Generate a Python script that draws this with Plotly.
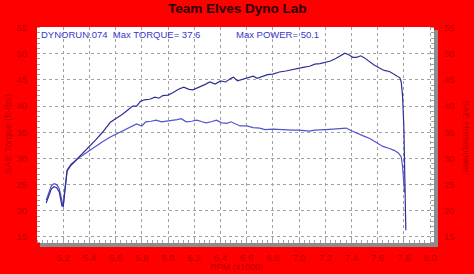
import plotly.graph_objects as go

# ---- data ----
rpm_hp = [5.07, 5.09, 5.11, 5.13, 5.15, 5.17, 5.19, 5.20, 5.21, 5.23, 5.26, 5.30, 5.33, 5.36,
          5.40, 5.45, 5.50, 5.56, 5.60, 5.65, 5.70, 5.73, 5.76, 5.79, 5.82, 5.86, 5.90, 5.93,
          5.96, 6.00, 6.04, 6.08, 6.12, 6.16, 6.19, 6.23, 6.28, 6.32, 6.36, 6.40, 6.44, 6.48,
          6.50, 6.53, 6.57, 6.61, 6.65, 6.68, 6.72, 6.76, 6.80, 6.85, 6.90, 6.95, 7.00, 7.03,
          7.08, 7.12, 7.16, 7.20, 7.24, 7.28, 7.32, 7.35, 7.38, 7.41, 7.44, 7.47, 7.50, 7.53,
          7.57, 7.61, 7.65, 7.69, 7.72, 7.75, 7.77, 7.78, 7.79, 7.80, 7.81, 7.815]
hp = [21.5, 23.0, 24.2, 24.6, 24.4, 23.6, 21.0, 20.8, 23.5, 27.6, 28.7, 29.7, 30.4, 31.2,
      32.3, 33.6, 35.0, 36.9, 37.6, 38.4, 39.4, 40.0, 40.0, 40.9, 41.2, 41.3, 41.7, 41.5,
      42.0, 42.1, 42.6, 43.2, 43.6, 43.2, 43.1, 43.5, 44.1, 44.6, 44.2, 44.8, 44.6, 45.3,
      45.5, 44.8, 45.1, 45.3, 45.7, 45.3, 45.7, 46.0, 46.1, 46.5, 46.7, 47.0, 47.3, 47.4,
      47.6, 48.0, 48.1, 48.4, 48.6, 49.1, 49.6, 50.1, 49.8, 49.3, 49.3, 49.6, 49.2, 48.6,
      47.9, 47.3, 46.8, 46.6, 46.1, 45.6, 45.4, 44.6, 42.0, 36.0, 26.0, 16.3]

rpm_tq = [5.07, 5.09, 5.11, 5.13, 5.15, 5.17, 5.19, 5.20, 5.21, 5.23, 5.26, 5.30, 5.33, 5.36,
          5.40, 5.45, 5.50, 5.56, 5.60, 5.64, 5.68, 5.72, 5.76, 5.80, 5.83, 5.87, 5.91, 5.95,
          5.99, 6.03, 6.07, 6.10, 6.14, 6.18, 6.22, 6.26, 6.29, 6.33, 6.37, 6.41, 6.45, 6.48,
          6.52, 6.55, 6.60, 6.65, 6.70, 6.74, 6.80, 6.85, 6.90, 6.95, 7.00, 7.05, 7.08, 7.12,
          7.16, 7.20, 7.26, 7.32, 7.36, 7.40, 7.44, 7.49, 7.54, 7.59, 7.64, 7.69, 7.73, 7.76,
          7.78, 7.79, 7.795, 7.80, 7.805]
torque = [22.0, 23.6, 24.8, 25.2, 25.0, 24.2, 21.5, 20.8, 23.6, 27.8, 28.9, 29.8, 30.3, 30.8,
          31.5, 32.3, 33.2, 34.1, 34.6, 35.1, 35.7, 36.2, 36.6, 36.2, 37.0, 37.1, 37.3, 37.0,
          37.1, 37.2, 37.4, 37.6, 37.0, 37.1, 37.3, 37.0, 36.8, 37.0, 37.3, 36.8, 36.7, 37.0,
          36.5, 36.2, 36.2, 35.9, 35.8, 35.5, 35.6, 35.5, 35.5, 35.4, 35.4, 35.3, 35.2, 35.4,
          35.4, 35.5, 35.6, 35.7, 35.8, 35.3, 34.8, 34.3, 33.8, 33.0, 32.3, 31.9, 31.5, 31.0,
          30.3, 28.5, 26.0, 24.5, 23.5]

x_ticks = [5.2, 5.4, 5.6, 5.8, 6.0, 6.2, 6.4, 6.6, 6.8, 7.0, 7.2, 7.4, 7.6, 7.8, 8.0]
x_labels = ["5.2", "5.4", "5.6", "5.8", "6.0", "6.2", "6.4", "6.6", "6.8", "7.0",
            "7.2", "7.4", "7.6", "7.8", "8.0"]
y_ticks = [15, 20, 25, 30, 35, 40, 45, 50, 55]

W, H = 474, 274
L, R, T, B = 37, 40, 27, 31
PW = W - L - R
PH = H - T - B
RED = "#ff0000"
LBL = "#bc0000"
GRID = "#a0a0a0"
FONT = "Liberation Sans, Arial, sans-serif"

fig = go.Figure()
fig.add_trace(go.Scatter(x=rpm_tq, y=torque, mode="lines", yaxis="y",
                         line=dict(color="#5252d0", width=1.2), showlegend=False))
fig.add_trace(go.Scatter(x=rpm_hp, y=hp, mode="lines", yaxis="y2",
                         line=dict(color="#2e2e96", width=1.2), showlegend=False))

yrange = [13.85, 55.1]
axis_common = dict(showline=False, zeroline=False, tickfont=dict(size=9.5, color=LBL, family=FONT))

fig.update_layout(
    width=W, height=H,
    margin=dict(l=L, r=R, t=T, b=B, pad=0, autoexpand=False),
    paper_bgcolor=RED, plot_bgcolor="white",
    font=dict(family=FONT),
    xaxis=dict(range=[5.0, 8.03], tickvals=x_ticks, ticktext=x_labels,
               showgrid=True, gridcolor=GRID, griddash="3px,3px", gridwidth=1,
               ticks="", ticklabelstandoff=7,
               minor=dict(ticks="inside", ticklen=3, tickcolor=GRID, dtick=0.04, tick0=5.0, showgrid=False),
               **axis_common),
    yaxis=dict(range=yrange, tickvals=y_ticks, showgrid=True, gridcolor=GRID,
               griddash="3px,3px", gridwidth=1, ticks="", ticklabelstandoff=9,
               minor=dict(ticks="inside", ticklen=3, tickcolor=GRID, dtick=1, tick0=15, showgrid=False),
               **axis_common),
    yaxis2=dict(range=yrange, tickvals=y_ticks, overlaying="y", side="right",
                showgrid=False, ticks="", ticklabelstandoff=9,
                minor=dict(ticks="inside", ticklen=3, tickcolor=GRID, dtick=1, tick0=15, showgrid=False),
                **axis_common),
)


def px(xp):
    return (xp - L) / PW


def py(yp):
    return (H - B - yp) / PH


# drop shadow of the plot area
fig.add_shape(type="rect", xref="paper", yref="paper",
              x0=px(W - R), x1=px(W - R + 4), y0=py(H - B + 4), y1=py(T + 3),
              fillcolor="#8c8c8c", line=dict(width=0), layer="below")
fig.add_shape(type="rect", xref="paper", yref="paper",
              x0=px(L + 3), x1=px(W - R), y0=py(H - B + 4), y1=py(H - B),
              fillcolor="#8c8c8c", line=dict(width=0), layer="below")

fig.add_annotation(text="<b>Team Elves Dyno Lab</b>", x=px(237), y=py(8.5), xref="paper", yref="paper",
                   showarrow=False, xanchor="center", yanchor="middle",
                   font=dict(size=13.5, color="#2a0000", family=FONT))
fig.add_annotation(text="RPM (x1000)", x=px(236), y=py(267), xref="paper", yref="paper",
                   showarrow=False, xanchor="center", yanchor="middle",
                   font=dict(size=9, color=LBL, family=FONT))
fig.add_annotation(text="SAE Torque (ft-lbs)", x=px(7), y=py(134), xref="paper", yref="paper",
                   showarrow=False, xanchor="center", yanchor="middle", textangle=-90,
                   font=dict(size=9.5, color=LBL, family=FONT))
fig.add_annotation(text="SAE Horsepower", x=px(467), y=py(136), xref="paper", yref="paper",
                   showarrow=False, xanchor="center", yanchor="middle", textangle=90,
                   font=dict(size=9.5, color=LBL, family=FONT))
fig.add_annotation(text="DYNORUN.074  Max TORQUE= 37.6", x=px(39), y=py(34), xref="paper", yref="paper",
                   showarrow=False, xanchor="left", yanchor="middle",
                   font=dict(size=9.5, color="#3838c8", family=FONT))
fig.add_annotation(text="Max POWER= 50.1", x=px(234), y=py(34), xref="paper", yref="paper",
                   showarrow=False, xanchor="left", yanchor="middle",
                   font=dict(size=9.5, color="#3838c8", family=FONT))

fig.write_html("out.html")
